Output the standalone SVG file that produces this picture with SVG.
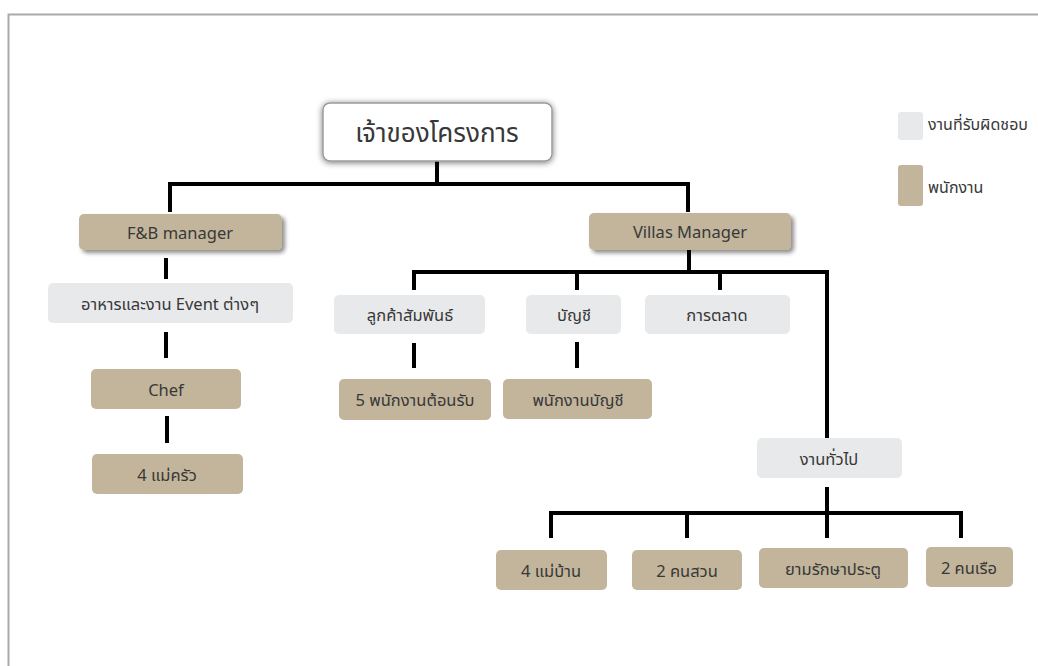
<svg xmlns="http://www.w3.org/2000/svg" width="1038" height="666" viewBox="0 0 1038 666">
<defs>
<filter id="sh" x="-10%" y="-30%" width="125%" height="170%">
<feGaussianBlur in="SourceAlpha" stdDeviation="2"/>
<feOffset dx="3" dy="3" result="b"/>
<feComponentTransfer><feFuncA type="linear" slope="0.45"/></feComponentTransfer>
<feMerge><feMergeNode/><feMergeNode in="SourceGraphic"/></feMerge>
</filter>
<filter id="glow" x="-10%" y="-30%" width="120%" height="160%">
<feGaussianBlur in="SourceAlpha" stdDeviation="3"/>
<feOffset dx="0" dy="1"/>
<feComponentTransfer><feFuncA type="linear" slope="0.55"/></feComponentTransfer>
<feMerge><feMergeNode/><feMergeNode in="SourceGraphic"/></feMerge>
</filter>
</defs>
<style>
.tan{fill:#c2b59b}
.gray{fill:#e8e9eb}
.t{font-family:"Noto Sans","Noto Sans Thai","DejaVu Sans",sans-serif;font-size:16.5px;fill:#383838;text-anchor:middle;dominant-baseline:central}
.lg{font-family:"Noto Sans","Noto Sans Thai","DejaVu Sans",sans-serif;font-size:16px;fill:#383838}
.c{stroke:#000;stroke-width:4;fill:none}
</style>
<rect x="0" y="0" width="1038" height="666" fill="#ffffff"/>
<path d="M8.5 666 V14.5 H1038" fill="none" stroke="#aaaaaa" stroke-width="2"/>

<g id="connectors">
<path class="c" d="M437 161 V184 M170 184 H690 M170 182 V212 M688 182 V212"/>
<path class="c" d="M166 258 V279 M166 332 V358 M167 416 V443"/>
<path class="c" d="M689 250 V272 M412 272 H829 M414 270 V290 M577 270 V290 M720 270 V290 M827 270 V438"/>
<path class="c" d="M414 343 V368 M577 342 V368"/>
<path class="c" d="M827 487 V513 M551 513 H963 M551 511 V538 M687 511 V538 M827 511 V538 M961 511 V538"/>
</g>

<g id="owner">
<rect x="323" y="103" width="229" height="58" rx="7" fill="#ffffff" stroke="#9a9a9a" stroke-width="1.5" filter="url(#glow)"/>
<text class="t" x="437" y="132" style="font-size:26px">เจ้าของโครงการ</text>
</g>

<g id="legend">
<rect class="gray" x="898" y="112" width="25" height="28" rx="3"/>
<text class="lg" x="928" y="130">งานที่รับผิดชอบ</text>
<rect class="tan" x="898" y="165" width="25" height="41" rx="3"/>
<text class="lg" x="928" y="193">พนักงาน</text>
</g>

<g id="fb-manager">
<rect class="tan" x="79" y="214" width="203" height="36" rx="5" filter="url(#sh)"/>
<text class="t" x="180" y="232">F&amp;B manager</text>
</g>
<g id="food-event">
<rect class="gray" x="48" y="283" width="245" height="40" rx="5"/>
<text class="t" x="170" y="303">อาหารและงาน Event ต่างๆ</text>
</g>
<g id="chef">
<rect class="tan" x="91" y="369" width="150" height="40" rx="5"/>
<text class="t" x="166" y="389">Chef</text>
</g>
<g id="cooks">
<rect class="tan" x="92" y="454" width="151" height="40" rx="5"/>
<text class="t" x="167" y="474">4 แม่ครัว</text>
</g>

<g id="villas-manager">
<rect class="tan" x="589" y="213" width="202" height="37" rx="5" filter="url(#sh)"/>
<text class="t" x="690" y="231">Villas Manager</text>
</g>
<g id="customer-relations">
<rect class="gray" x="334" y="295" width="151" height="39" rx="5"/>
<text class="t" x="410" y="314">ลูกค้าสัมพันธ์</text>
</g>
<g id="accounting">
<rect class="gray" x="526" y="295" width="95" height="39" rx="5"/>
<text class="t" x="574" y="314">บัญชี</text>
</g>
<g id="marketing">
<rect class="gray" x="645" y="295" width="145" height="39" rx="5"/>
<text class="t" x="717" y="314">การตลาด</text>
</g>
<g id="receptionists">
<rect class="tan" x="339" y="379" width="152" height="41" rx="5"/>
<text class="t" x="415" y="399">5 พนักงานต้อนรับ</text>
</g>
<g id="accountant">
<rect class="tan" x="503" y="379" width="149" height="40" rx="5"/>
<text class="t" x="578" y="399">พนักงานบัญชี</text>
</g>
<g id="general">
<rect class="gray" x="757" y="438" width="145" height="40" rx="5"/>
<text class="t" x="829" y="458">งานทั่วไป</text>
</g>
<g id="maids">
<rect class="tan" x="496" y="550" width="111" height="40" rx="5"/>
<text class="t" x="551" y="570">4 แม่บ้าน</text>
</g>
<g id="gardeners">
<rect class="tan" x="632" y="550" width="110" height="40" rx="5"/>
<text class="t" x="687" y="570">2 คนสวน</text>
</g>
<g id="guard">
<rect class="tan" x="759" y="548" width="149" height="40" rx="5"/>
<text class="t" x="833" y="568">ยามรักษาประตู</text>
</g>
<g id="boatmen">
<rect class="tan" x="926" y="547" width="87" height="40" rx="5"/>
<text class="t" x="969" y="567">2 คนเรือ</text>
</g>
</svg>
